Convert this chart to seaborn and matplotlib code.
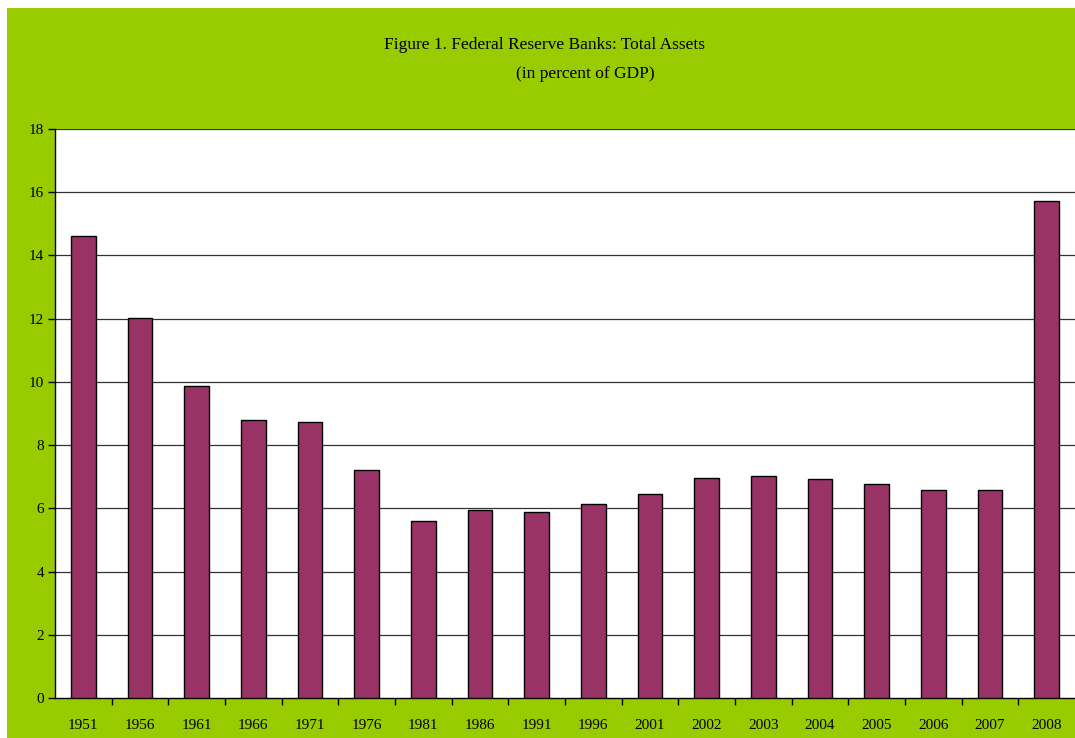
import matplotlib
matplotlib.use("Agg")
import matplotlib.pyplot as plt
import seaborn as sns
import pandas as pd
from matplotlib.patches import Rectangle

years = ["1951", "1956", "1961", "1966", "1971", "1976", "1981", "1986", "1991",
         "1996", "2001", "2002", "2003", "2004", "2005", "2006", "2007", "2008"]
assets = [14.62, 12.02, 9.87, 8.80, 8.73, 7.21, 5.60, 5.95, 5.89,
          6.14, 6.46, 6.96, 7.03, 6.93, 6.77, 6.58, 6.58, 15.73]
y_ticks = [0, 2, 4, 6, 8, 10, 12, 14, 16, 18]

df = pd.DataFrame({"year": years, "assets": assets})

sns.set_theme(style="white")
plt.rcParams["font.family"] = ["Liberation Serif", "DejaVu Serif"]
plt.rcParams["text.color"] = "black"
plt.rcParams["xtick.color"] = "black"
plt.rcParams["ytick.color"] = "black"
plt.rcParams["xtick.labelcolor"] = "black"
plt.rcParams["ytick.labelcolor"] = "black"

W, H = 1075, 738
fig = plt.figure(figsize=(W / 100, H / 100), dpi=100)
fig.patch.set_facecolor("white")
green = "#99CC00"
fig.patches.append(Rectangle((7 / W, 0), 1 - 7 / W, (H - 8) / H,
                             transform=fig.transFigure, facecolor=green,
                             edgecolor="none", zorder=-10))

ax = fig.add_axes([55 / W, (H - 698) / H, (W - 55) / W, (698 - 129) / H])
ax.set_facecolor("white")

sns.barplot(data=df, x="year", y="assets", ax=ax, color="#993366",
            saturation=1, width=0.44, edgecolor="black", linewidth=1.0,
            zorder=3)

ax.set_ylim(0, 18)
ax.set_xlim(-0.5, len(years) - 0.5)
ax.set_yticks(y_ticks)
ax.set_yticklabels([str(t) for t in y_ticks], fontsize=11, color="black")
for t in y_ticks[1:]:
    ax.axhline(t, color="#333333", linewidth=0.9, zorder=1)

ax.set_xticks(range(len(years)))
ax.set_xticklabels(years, fontsize=11, color="black")
ax.tick_params(axis="x", which="major", length=0, pad=15)
ax.set_xticks([i - 0.5 for i in range(1, len(years))], minor=True)
ax.tick_params(axis="x", which="minor", length=5, width=1, color="black",
               direction="out", bottom=True)
ax.tick_params(axis="y", length=5, width=1, color="black", direction="out",
               left=True, pad=3)

for s in ["top", "right"]:
    ax.spines[s].set_visible(False)
for s in ["left", "bottom"]:
    ax.spines[s].set_color("black")
    ax.spines[s].set_linewidth(1.0)

ax.set_xlabel("")
ax.set_ylabel("")

fig.text(545 / W, 1 - 45 / H, "Figure 1. Federal Reserve Banks: Total Assets",
         ha="center", va="center", fontsize=12.5, color="black")
fig.text(585 / W, 1 - 74 / H, "(in percent of GDP)",
         ha="center", va="center", fontsize=12.5, color="black")

fig.savefig("out.png", dpi=100, facecolor=fig.get_facecolor())
